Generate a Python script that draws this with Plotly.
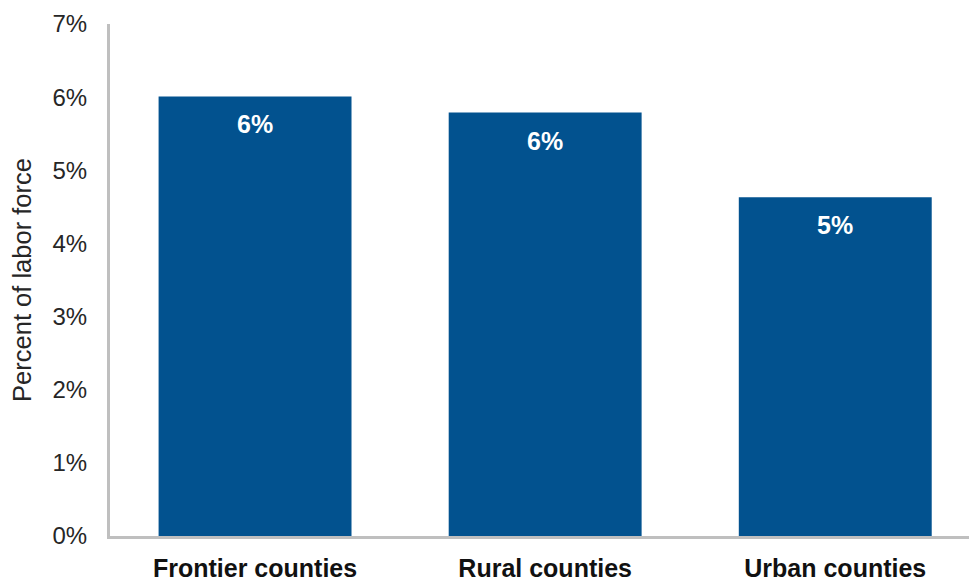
import plotly.graph_objects as go

categories = ["Frontier counties", "Rural counties", "Urban counties"]
values = [6.01, 5.79, 4.63]
labels = ["6%", "6%", "5%"]
tick_vals = [0, 1, 2, 3, 4, 5, 6, 7]
tick_text = ["0%", "1%", "2%", "3%", "4%", "5%", "6%", "7%"]

bar_color = "#02528f"
axis_color = "#bfbfbf"
font_family = "Liberation Sans, Arial, sans-serif"

fig = go.Figure()
fig.add_trace(go.Bar(
    x=categories,
    y=values,
    width=0.665,
    marker=dict(color=bar_color, line=dict(width=0)),
    hoverinfo="skip",
))

for c, v, t in zip(categories, values, labels):
    fig.add_annotation(
        x=c, y=v, xref="x", yref="y",
        text=t, showarrow=False,
        yanchor="middle", yshift=-28,
        font=dict(family=font_family, size=25, color="white", weight="bold"),
    )

fig.update_layout(
    width=969, height=581,
    margin=dict(l=110, r=0, t=24, b=45, pad=0),
    paper_bgcolor="white", plot_bgcolor="white",
    showlegend=False,
    font=dict(family=font_family, color="#262626"),
)
fig.update_xaxes(
    range=[-0.5, 2.461],
    showline=True, linecolor=axis_color, linewidth=3,
    showgrid=False, zeroline=False, ticks="",
    tickfont=dict(family=font_family, size=25, color="#111111", weight="bold"),
    ticklabelstandoff=8,
    automargin=False,
)
fig.update_yaxes(
    range=[0, 7],
    tickvals=tick_vals, ticktext=tick_text,
    showline=True, linecolor=axis_color, linewidth=3,
    showgrid=False, zeroline=False, ticks="",
    tickfont=dict(family=font_family, size=24, color="#262626"),
    ticklabelstandoff=15,
    title=dict(text="Percent of labor force", font=dict(family=font_family, size=25.5, color="#262626"), standoff=14),
    automargin=False,
)

fig.write_html(
    "out.html",
    config={"displayModeBar": False},
    post_script="document.body.style.margin='0';document.body.style.overflow='hidden';",
)
